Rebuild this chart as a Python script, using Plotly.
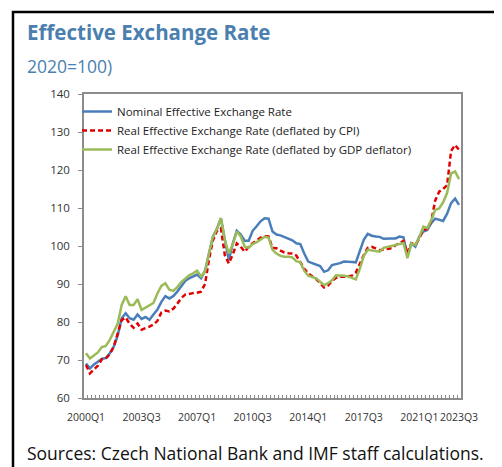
import plotly.graph_objects as go

years = list(range(2000, 2024))
quarters = [f"{y}Q{q}" for y in years for q in range(1, 5)][:95]  # 2000Q1 .. 2023Q3

tick_labels = ["2000Q1", "2003Q3", "2007Q1", "2010Q3", "2014Q1", "2017Q3", "2021Q1", "2023Q3"]

neer = [69.1, 67.8, 68.8, 69.6, 70.3, 70.5, 71.8, 73.5, 76.5, 81.0,
        82.3, 81.0, 80.6, 82.0, 80.8, 81.3, 80.6, 82.0, 83.3, 85.3,
        86.8, 86.2, 86.8, 88.0, 89.5, 90.8, 91.5, 92.0, 92.5, 91.5,
        93.5, 98.0, 102.5, 104.5, 107.3, 101.6, 96.3, 100.7, 104.0, 103.0,
        101.4, 101.4, 104.0, 105.2, 106.5, 107.3, 107.2, 103.8, 103.0, 102.8,
        102.3, 102.0, 101.5, 100.7, 100.5, 98.0, 95.9, 95.5, 95.0, 94.7,
        93.2, 93.6, 95.0, 95.2, 95.5, 95.9, 95.9, 95.8, 95.7, 98.5,
        101.6, 103.2, 102.7, 102.5, 102.4, 101.9, 102.0, 102.0, 102.0, 102.5,
        102.3, 97.4, 100.7, 99.8, 102.5, 103.8, 104.2, 106.0, 107.2, 107.0,
        106.6, 108.5, 111.3, 112.5, 110.8]

reer_cpi = [68.7, 66.5, 67.5, 68.5, 70.2, 70.4, 71.5, 73.5, 77.0, 80.5,
            81.2, 79.5, 78.5, 79.6, 78.0, 78.3, 78.8, 79.3, 80.3, 82.5,
            83.0, 82.8, 83.5, 84.8, 86.3, 87.2, 87.5, 87.6, 87.7, 88.0,
            90.0, 96.5, 101.5, 104.0, 104.7, 97.5, 95.4, 97.8, 100.7, 99.8,
            98.5, 99.8, 100.7, 101.5, 102.2, 102.6, 102.5, 99.5, 99.4, 98.8,
            98.3, 98.1, 98.0, 97.5, 95.9, 94.0, 92.8, 92.0, 91.3, 90.2,
            89.1, 89.6, 90.8, 91.6, 91.9, 91.9, 92.0, 92.2, 93.0, 95.4,
            97.6, 99.5, 99.8, 99.4, 98.9, 99.1, 99.3, 99.4, 100.2, 100.8,
            101.3, 98.1, 100.7, 100.3, 102.0, 104.2, 104.5, 106.5, 112.0, 114.3,
            115.0, 116.0, 125.0, 126.6, 125.3]

reer_gdp = [71.8, 70.4, 71.2, 72.0, 73.4, 73.7, 75.3, 77.5, 79.6, 84.5,
            86.8, 84.5, 84.5, 86.0, 83.2, 83.8, 84.5, 85.0, 87.5, 89.5,
            90.2, 88.5, 88.2, 89.2, 90.5, 91.5, 92.3, 92.8, 93.5, 92.0,
            93.2, 98.0, 102.5, 104.5, 107.3, 101.5, 98.0, 100.5, 103.8, 102.5,
            99.8, 99.5, 100.5, 101.0, 101.6, 102.4, 102.2, 99.0, 98.0, 97.4,
            97.2, 97.2, 97.0, 96.0, 95.7, 93.5, 92.2, 91.9, 91.5, 90.6,
            89.7, 90.2, 91.0, 92.3, 92.3, 92.2, 92.0, 91.5, 91.2, 94.0,
            97.4, 99.0, 98.8, 98.5, 98.5, 99.5, 99.8, 100.0, 100.3, 100.6,
            100.8, 96.8, 100.7, 100.3, 102.3, 105.1, 104.7, 106.8, 109.5, 109.9,
            111.5, 114.0, 119.1, 119.6, 117.6]

series_names = ["Nominal Effective Exchange Rate",
                "Real Effective Exchange Rate (deflated by CPI)",
                "Real Effective Exchange Rate (deflated by GDP deflator)"]

FONT = "Open Sans"
OFF = 8  # page body margin offset of the plot div
W, H = 502 - OFF, 467 - OFF
# target plot area in window pixels: x 84..461, y 94..398
L, R, T, B = 84 - OFF, 502 - 461, 94 - OFF, 467 - 398
PW, PH = W - L - R, H - T - B


def px(x):  # window pixel -> paper x
    return (x - OFF - L) / PW


def py(y):  # window pixel -> paper y
    return (H - B - (y - OFF)) / PH


xidx = [quarters.index(q) for q in quarters]
xrange_ = [-0.5, len(quarters) - 0.5]

fig = go.Figure()
fig.add_trace(go.Scatter(x=xidx, y=neer, mode="lines", name=series_names[0],
                         line=dict(color="#4a7ebb", width=2.5)))
fig.add_trace(go.Scatter(x=xidx, y=reer_cpi, mode="lines", name=series_names[1],
                         line=dict(color="#e00000", width=2.5, dash="5px,3px")))
fig.add_trace(go.Scatter(x=xidx, y=reer_gdp, mode="lines", name=series_names[2],
                         line=dict(color="#9bbb59", width=2.5)))
# invisible carrier trace so the category-tick axis (x2) is drawn
fig.add_trace(go.Scatter(x=xidx, y=neer, mode="lines", xaxis="x2", yaxis="y",
                         line=dict(width=0), opacity=0, showlegend=False, hoverinfo="skip"))

axis_col = "#8c8c8c"
fig.update_layout(
    xaxis=dict(range=xrange_, showgrid=False, zeroline=False,
               showline=True, linecolor=axis_col, linewidth=1.5, mirror=True,
               tickmode="array", tickvals=[quarters.index(t) for t in tick_labels],
               ticktext=tick_labels, ticks="", tickangle=0, ticklabelstandoff=9,
               tickfont=dict(family=FONT, size=10.5, color="#333333")),
    xaxis2=dict(range=xrange_, overlaying="x", anchor="y", side="bottom",
                showgrid=False, zeroline=False, showline=False, showticklabels=False,
                tickmode="linear", tick0=-0.5, dtick=1, ticks="inside", ticklen=3,
                tickcolor=axis_col, tickwidth=1),
    yaxis=dict(range=[60, 140], dtick=10, showgrid=False, zeroline=False,
               showline=True, linecolor=axis_col, linewidth=1.5, mirror=True,
               ticks="outside", ticklen=4, tickcolor=axis_col, ticklabelstandoff=6,
               tickfont=dict(family=FONT, size=11.5, color="#333333")),
)

fig.update_layout(
    width=W, height=H, margin=dict(l=L, r=R, t=T, b=B, autoexpand=False),
    paper_bgcolor="white", plot_bgcolor="white",
    font=dict(family=FONT, color="#333333"),
    showlegend=True,
    legend=dict(x=px(77), y=py(97), xanchor="left", yanchor="top",
                bgcolor="rgba(0,0,0,0)", font=dict(family=FONT, size=11.5, color="#222222"),
                tracegroupgap=0, itemwidth=30),
    annotations=[
        dict(text="<b>Effective Exchange Rate</b>", x=px(25), y=py(32), xref="paper", yref="paper",
             xanchor="left", yanchor="middle", showarrow=False,
             font=dict(family=FONT, size=20.5, color="#4a7fb0")),
        dict(text="2020=100)", x=px(25), y=py(66), xref="paper", yref="paper",
             xanchor="left", yanchor="middle", showarrow=False,
             font=dict(family=FONT, size=17.5, color="#4a7fb0")),
        dict(text="Sources: Czech National Bank and IMF staff calculations.", x=px(25), y=py(453),
             xref="paper", yref="paper", xanchor="left", yanchor="middle", showarrow=False,
             font=dict(family=FONT, size=17.5, color="#111111")),
    ],
    shapes=[
        dict(type="path", xref="paper", yref="paper",
             path=f"M {px(13)},{py(480)} L {px(13)},{py(12)} L {px(515)},{py(12)}",
             line=dict(color="black", width=2.5)),
    ],
)

fig.write_html("out.html")
